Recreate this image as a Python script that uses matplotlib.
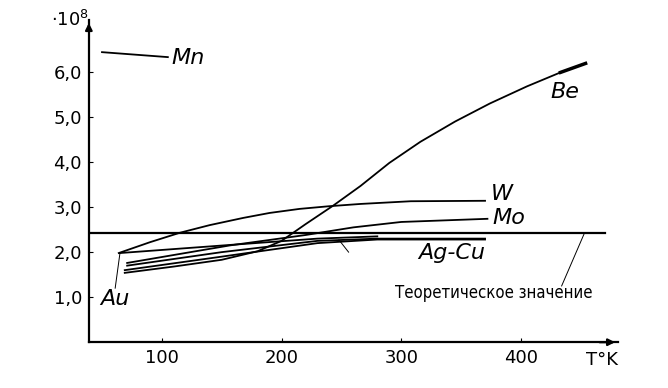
import matplotlib
matplotlib.use("Agg")
import matplotlib.pyplot as plt

# values (T in K, value in units of 10^8)
mn_t = [50, 105]
mn_v = [6.44, 6.33]

be_t = [69, 110, 150, 180, 200, 220, 243, 266, 290, 316, 345, 374, 405, 433, 454]
be_v = [1.54, 1.68, 1.83, 2.02, 2.25, 2.62, 3.03, 3.47, 3.98, 4.45, 4.90, 5.30, 5.68, 5.99, 6.19]

w_t = [64, 90, 115, 140, 168, 190, 215, 240, 266, 308, 370]
w_v = [1.98, 2.22, 2.43, 2.60, 2.76, 2.87, 2.96, 3.02, 3.07, 3.13, 3.14]

mo_t = [71, 157, 220, 260, 300, 372]
mo_v = [1.76, 2.15, 2.38, 2.55, 2.67, 2.74]

au_t = [65, 157, 230, 280]
au_v = [1.98, 2.16, 2.30, 2.35]

ag_t = [71, 150, 230, 280, 370]
ag_v = [1.70, 2.00, 2.25, 2.30, 2.30]

cu_t = [69, 150, 230, 280, 370]
cu_v = [1.60, 1.90, 2.20, 2.28, 2.28]

theory = 2.42
x_ticks = [100, 200, 300, 400]
y_ticks = [1, 2, 3, 4, 5, 6]
y_labels = ["1,0", "2,0", "3,0", "4,0", "5,0", "6,0"]

plt.rcParams['font.family'] = ['DejaVu Sans']

fig = plt.figure(figsize=(6.68, 3.88), dpi=100)
ax = fig.add_axes([0.133, 0.118, 0.792, 0.83])
ax.set_xlim(39, 481)
ax.set_ylim(0, 7.15)

lw = 1.3
for t, v in [(mn_t, mn_v), (be_t, be_v), (w_t, w_v), (mo_t, mo_v),
             (au_t, au_v), (ag_t, ag_v), (cu_t, cu_v)]:
    ax.plot(t, v, color="black", lw=lw)
ax.plot(be_t[-2:], be_v[-2:], color="black", lw=2.5)

ax.plot([39, 470], [theory, theory], color="black", lw=1.6)

for s in ["top", "right"]:
    ax.spines[s].set_visible(False)
for s in ["left", "bottom"]:
    ax.spines[s].set_linewidth(1.6)

# axis arrows
ax.annotate("", xy=(1.0, 0), xycoords="axes fraction", xytext=(0.96, 0),
            arrowprops=dict(arrowstyle="-|>", color="black", lw=1.6, mutation_scale=10))
ax.annotate("", xy=(0, 1.0), xycoords="axes fraction", xytext=(0, 0.96),
            arrowprops=dict(arrowstyle="-|>", color="black", lw=1.6, mutation_scale=10))

ax.set_xticks(x_ticks)
ax.set_yticks(y_ticks)
ax.set_yticklabels(y_labels)
ax.tick_params(direction="in", length=3, labelsize=13, pad=5)

ax.text(0.0, 1.0, "·10$^8$", transform=ax.transAxes, fontsize=13,
        ha="right", va="center")
ax.text(1.0, -0.055, "T°K", transform=ax.transAxes, fontsize=13,
        ha="right", va="center")

lab = dict(fontsize=16, style="italic", va="center")
ax.text(108, 6.31, "Mn", ha="left", **lab)
ax.text(425, 5.55, "Be", ha="left", **lab)
ax.text(375, 3.28, "W", ha="left", **lab)
ax.text(376, 2.75, "Mo", ha="left", **lab)
ax.text(314, 1.98, "Ag-Cu", ha="left", **lab)
ax.text(61, 0.95, "Au", ha="center", **lab)

ax.plot([65, 61], [1.98, 1.2], color="black", lw=0.7)
ax.plot([248, 256], [2.27, 2.0], color="black", lw=0.7)
ax.plot([453, 434], [2.42, 1.25], color="black", lw=0.7)
ax.text(377, 1.1, "Теоретическое значение", fontsize=12, ha="center",
        va="center", fontstretch="condensed")

fig.savefig("out.png", dpi=100)
